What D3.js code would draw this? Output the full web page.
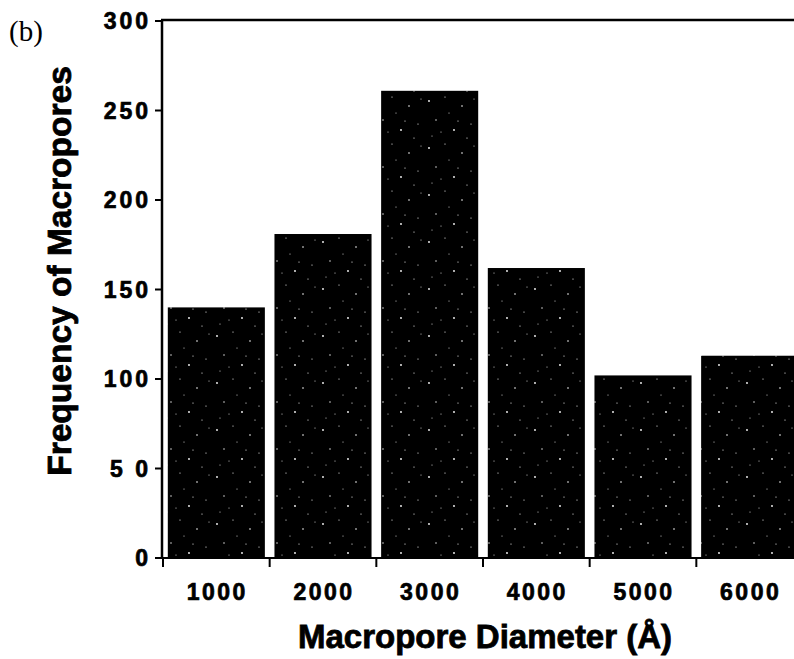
<!DOCTYPE html>
<html>
<head>
<meta charset="utf-8">
<script src="https://cdn.jsdelivr.net/npm/d3@7"></script>
<style>
  html, body { margin: 0; padding: 0; background: #fff; }
  svg { display: block; }
</style>
</head>
<body>
<svg id="chart" width="794" height="659"></svg>
<script>
const categories = ["1000", "2000", "3000", "4000", "5000", "6000"];
const frequencies = [140, 181, 261, 162, 102, 113];
const yTickValues = [0, 50, 100, 150, 200, 250, 300];
const yTickLabels = ["0", "5 0", "100", "150", "200", "250", "300"];
const xTitle = "Macropore Diameter (\u00C5)";
const yTitle = "Frequency of Macropores";
const panelLabel = "(b)";

(function () {
const svg = d3.select("#chart");
const pLeft = 163, pRight = 803, pTop = 21, pBottom = 558;
const sans = "'Liberation Sans', Arial, Helvetica, sans-serif";

const x = d3.scaleBand().domain(categories).range([pLeft, pRight])
  .paddingInner(0.09).paddingOuter(0.045);
const y = d3.scaleLinear().domain([0, 300]).range([pBottom, pTop]);

// speckle pattern (decorative texture)
const defs = svg.append("defs");
const pat = defs.append("pattern").attr("id", "speck").attr("patternUnits", "userSpaceOnUse")
  .attr("width", 53).attr("height", 47);
pat.append("rect").attr("width", 53).attr("height", 47).attr("fill", "#000");
const specks = [[5,7,0.9],[21,3,0.6],[38,12,0.8],[47,30,0.6],[12,26,0.7],[30,36,0.9],[8,42,0.5],[43,44,0.6],[25,19,0.5],[17,38,0.5],[50,5,0.5],[34,27,0.6]];
specks.forEach(s => pat.append("circle").attr("cx", s[0]).attr("cy", s[1]).attr("r", s[2]).attr("fill", "#fff"));

const g = svg.append("g");

// bars
g.selectAll("rect.bar").data(frequencies).join("rect")
  .attr("class", "bar")
  .attr("x", (d, i) => x(categories[i]))
  .attr("y", d => y(d))
  .attr("width", x.bandwidth())
  .attr("height", d => y(0) - y(d))
  .attr("fill", "url(#speck)");

// axes lines
g.append("line").attr("x1", pLeft - 1).attr("x2", pLeft - 1).attr("y1", pTop - 1).attr("y2", pBottom + 1)
  .attr("stroke", "#000").attr("stroke-width", 2.5);
g.append("line").attr("x1", pLeft - 2).attr("x2", 794).attr("y1", pTop - 1).attr("y2", pTop - 1)
  .attr("stroke", "#000").attr("stroke-width", 2.5);
g.append("line").attr("x1", pLeft - 2).attr("x2", 794).attr("y1", pBottom).attr("y2", pBottom)
  .attr("stroke", "#000").attr("stroke-width", 2);

// y ticks
const yt = g.selectAll("g.yt").data(yTickValues).join("g").attr("class", "yt")
  .attr("transform", d => `translate(0,${y(d)})`);
yt.append("line").attr("x1", pLeft - 8).attr("x2", pLeft - 1).attr("stroke", "#000").attr("stroke-width", 2);
yt.append("text").attr("x", pLeft - 12).attr("y", 0).attr("dy", "0.36em")
  .attr("text-anchor", "end")
  .attr("fill", "#000").attr("stroke", "#000").attr("stroke-width", 0.7)
  .style("font-family", sans)
  .style("font-weight", "bold").style("font-size", "23px").style("letter-spacing", "3px")
  .text((d, i) => yTickLabels[i]);

// x boundary ticks
const half = (x.step() - x.bandwidth()) / 2;
g.selectAll("line.xt").data(categories).join("line").attr("class", "xt")
  .attr("x1", d => x(d) - half).attr("x2", d => x(d) - half)
  .attr("y1", pBottom).attr("y2", pBottom + 9)
  .attr("stroke", "#000").attr("stroke-width", 2);

// x labels
g.selectAll("text.xl").data(categories).join("text").attr("class", "xl")
  .attr("x", d => x(d) + x.bandwidth() / 2 + 1)
  .attr("y", 600)
  .attr("text-anchor", "middle")
  .attr("fill", "#000").attr("stroke", "#000").attr("stroke-width", 0.7)
  .style("font-family", sans)
  .style("font-weight", "bold").style("font-size", "23px").style("letter-spacing", "2.5px")
  .text(d => d);

// titles
svg.append("text").attr("x", 485).attr("y", 648).attr("text-anchor", "middle")
  .attr("fill", "#000").attr("stroke", "#000").attr("stroke-width", 0.8)
  .style("font-family", sans)
  .style("font-weight", "bold").style("font-size", "33px")
  .text(xTitle);
svg.append("text").attr("transform", "translate(71,271) rotate(-90)").attr("text-anchor", "middle")
  .attr("fill", "#000").attr("stroke", "#000").attr("stroke-width", 0.8)
  .style("font-family", sans)
  .style("font-weight", "bold").style("font-size", "33.5px")
  .text(yTitle);
svg.append("text").attr("x", 9).attr("y", 41)
  .style("font-family", "'Liberation Serif', 'Times New Roman', serif")
  .style("font-size", "29px")
  .text(panelLabel);
})();
</script>
</body>
</html>
